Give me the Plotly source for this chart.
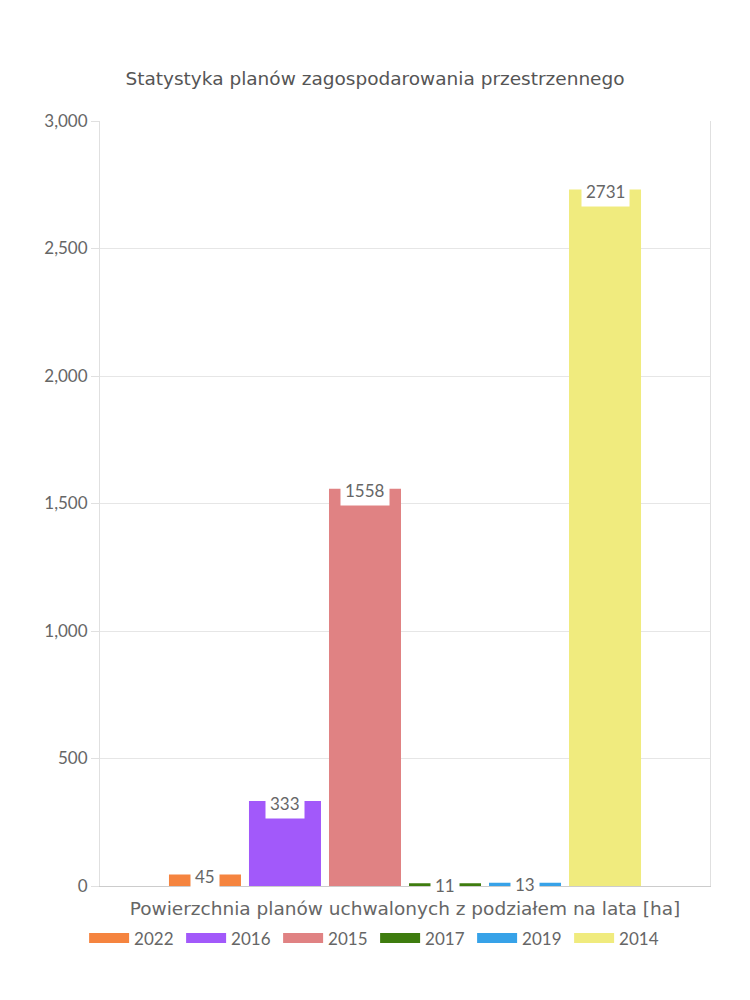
import plotly.graph_objects as go

category = "Powierzchnia planów uchwalonych z podziałem na lata [ha]"
series_names = ["2022", "2016", "2015", "2017", "2019", "2014"]
series_values = [45, 333, 1558, 11, 13, 2731]
series_colors = ["#F5843F", "#A259FA", "#E08283", "#3E7C0E", "#37A2E8", "#F0EB7E"]

FONT = "Lato"
WIDE = "DejaVu Sans"
GRAY = "#666666"

fig = go.Figure()
for name, val, col in zip(series_names, series_values, series_colors):
    fig.add_trace(go.Bar(name=name, x=[category], y=[val], marker=dict(color=col, line=dict(width=0)),
                         hoverinfo="y+name", showlegend=False, legendgroup=name))
# legend entries with wide rectangular swatches
for name, col in zip(series_names, series_colors):
    fig.add_trace(go.Scatter(name=name, x=[None], y=[None], mode="lines",
                             line=dict(color=col, width=18), legendgroup=name,
                             showlegend=True, hoverinfo="skip"))

bargap = 0.213
n = len(series_names)
slot = (1 - bargap) / n
for i, val in enumerate(series_values):
    xc = -(1 - bargap) / 2 + slot * (i + 0.5)
    fig.add_annotation(x=xc, y=val, xref="x", yref="y", text=str(val), showarrow=False,
                       yanchor="middle", xanchor="center", bgcolor="white", borderpad=4,
                       yshift=-2,
                       font=dict(family=FONT, size=17, color=GRAY))

fig.update_layout(
    width=750, height=1000,
    paper_bgcolor="white", plot_bgcolor="white",
    margin=dict(l=100, r=40, t=121, b=114, autoexpand=False),
    title=dict(text="Statystyka planów zagospodarowania przestrzennego", x=0.5, xanchor="center",
               xref="container",
               y=1 - 79 / 1000, yanchor="middle",
               font=dict(family=WIDE, size=18.5, color="#555555")),
    barmode="group", bargap=bargap, bargroupgap=0.1,
    font=dict(family=FONT, color=GRAY),
    showlegend=True,
    legend=dict(orientation="h", x=0.451, xanchor="center", y=-0.045, yanchor="top",
                font=dict(family=FONT, size=17, color=GRAY), itemwidth=40, traceorder="normal",
                entrywidth=42, entrywidthmode="pixels", tracegroupgap=0),
    xaxis=dict(type="category", showline=True, linecolor="#cccccc", mirror=False, showgrid=False,
               tickfont=dict(family=WIDE, size=18.5, color=GRAY), ticks="", ticklen=0,
               ticklabelstandoff=6),
    yaxis=dict(range=[0, 3000], dtick=500, tickformat=",", showgrid=True, gridcolor="#e6e6e6",
               zeroline=False, showline=True, linecolor="#e0e0e0", mirror=True,
               ticks="outside", ticklen=8, tickcolor="#e0e0e0",
               tickfont=dict(family=FONT, size=17, color=GRAY)),
)

fig.write_html("out.html")
